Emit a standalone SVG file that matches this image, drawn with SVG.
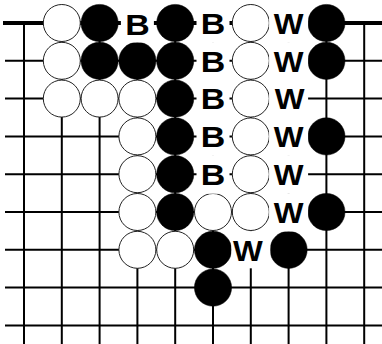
<svg xmlns="http://www.w3.org/2000/svg" width="382" height="344" viewBox="0 0 382 344">
<defs>
<style>
.g{stroke:#000;stroke-width:2;fill:none}
.edge{stroke:#000;stroke-width:4}
.w{fill:#fff;stroke:#222;stroke-width:1}
.b{fill:#000;stroke:#000;stroke-width:0.5}
.bg{fill:#fff}
.t{font-family:"Liberation Sans",Arial,sans-serif;font-weight:bold;font-size:30px;fill:#000;text-anchor:middle}
</style>
<circle id="ws" r="18.5" class="w"/>
<circle id="bs" r="18.6" class="b"/>
</defs>
<rect width="382" height="344" fill="#fff"/>
<g id="grid">
<line class="edge" x1="3" y1="23" x2="382" y2="23"/>
<path class="g" d="M5 60.8H382M5 98.6H382M5 136.4H382M5 174.2H382M5 212H382M5 249.8H382M5 287.6H382M5 325.4H382"/>
<path class="g" d="M24 23V344M61.8 23V344M99.6 23V344M137.4 23V344M175.2 23V344M213 23V344M250.8 23V344M288.6 23V344M326.4 23V344M364.2 23V344"/>
</g>
<g id="stones">
<g id="r0"><use href="#ws" x="61.8" y="23"/><use href="#bs" x="99.6" y="23"/><use href="#bs" x="175.2" y="23"/><use href="#ws" x="250.8" y="23"/><use href="#bs" x="326.4" y="23"/></g>
<g id="r1"><use href="#ws" x="61.8" y="60.8"/><use href="#bs" x="99.6" y="60.8"/><use href="#bs" x="137.4" y="60.8"/><use href="#bs" x="175.2" y="60.8"/><use href="#ws" x="250.8" y="60.8"/><use href="#bs" x="326.4" y="60.8"/></g>
<g id="r2"><use href="#ws" x="61.8" y="98.6"/><use href="#ws" x="99.6" y="98.6"/><use href="#ws" x="137.4" y="98.6"/><use href="#bs" x="175.2" y="98.6"/><use href="#ws" x="250.8" y="98.6"/></g>
<g id="r3"><use href="#ws" x="137.4" y="136.4"/><use href="#bs" x="175.2" y="136.4"/><use href="#ws" x="250.8" y="136.4"/><use href="#bs" x="326.4" y="136.4"/></g>
<g id="r4"><use href="#ws" x="137.4" y="174.2"/><use href="#bs" x="175.2" y="174.2"/><use href="#ws" x="250.8" y="174.2"/></g>
<g id="r5"><use href="#ws" x="137.4" y="212"/><use href="#bs" x="175.2" y="212"/><use href="#ws" x="213" y="212"/><use href="#ws" x="250.8" y="212"/><use href="#bs" x="326.4" y="212"/></g>
<g id="r6"><use href="#ws" x="137.4" y="249.8"/><use href="#ws" x="175.2" y="249.8"/><use href="#bs" x="213" y="249.8"/><use href="#bs" x="288.6" y="249.8"/></g>
<g id="r7"><use href="#bs" x="213" y="287.6"/></g>
</g>
<g id="labels">
<g id="lb0a"><rect class="bg" x="120.9" y="4.3" width="33" height="38.2"/><text class="t" x="137.4" y="35" textLength="24.5" lengthAdjust="spacingAndGlyphs">B</text></g>
<g id="lb0b"><rect class="bg" x="196.5" y="4.3" width="33" height="38.2"/><text class="t" x="213" y="33.7" textLength="24.5" lengthAdjust="spacingAndGlyphs">B</text></g>
<g id="lw0"><rect class="bg" x="269.1" y="4.3" width="39" height="38.2"/><text class="t" x="288.6" y="33.7" textLength="29.8" lengthAdjust="spacingAndGlyphs">W</text></g>
<g id="lb1"><rect class="bg" x="196.5" y="42.1" width="33" height="38.2"/><text class="t" x="213" y="71.5" textLength="24.5" lengthAdjust="spacingAndGlyphs">B</text></g>
<g id="lw1"><rect class="bg" x="269.1" y="42.1" width="39" height="38.2"/><text class="t" x="288.6" y="71.5" textLength="29.8" lengthAdjust="spacingAndGlyphs">W</text></g>
<g id="lb2"><rect class="bg" x="196.5" y="79.9" width="33" height="38.2"/><text class="t" x="213" y="109.3" textLength="24.5" lengthAdjust="spacingAndGlyphs">B</text></g>
<g id="lw2"><rect class="bg" x="269.1" y="79.9" width="39" height="38.2"/><text class="t" x="289.6" y="109.3" textLength="29.8" lengthAdjust="spacingAndGlyphs">W</text></g>
<g id="lb3"><rect class="bg" x="196.5" y="117.7" width="33" height="38.2"/><text class="t" x="213" y="147.1" textLength="24.5" lengthAdjust="spacingAndGlyphs">B</text></g>
<g id="lw3"><rect class="bg" x="269.1" y="117.7" width="39" height="38.2"/><text class="t" x="288.6" y="147.1" textLength="29.8" lengthAdjust="spacingAndGlyphs">W</text></g>
<g id="lb4"><rect class="bg" x="196.5" y="155.5" width="33" height="38.2"/><text class="t" x="213" y="184.9" textLength="24.5" lengthAdjust="spacingAndGlyphs">B</text></g>
<g id="lw4"><rect class="bg" x="269.1" y="155.5" width="39" height="38.2"/><text class="t" x="288.6" y="184.9" textLength="29.8" lengthAdjust="spacingAndGlyphs">W</text></g>
<g id="lw5"><rect class="bg" x="269.1" y="193.3" width="39" height="38.2"/><text class="t" x="288.6" y="222.7" textLength="29.8" lengthAdjust="spacingAndGlyphs">W</text></g>
<g id="lw6"><rect class="bg" x="231.3" y="231.1" width="39" height="37.2"/><text class="t" x="248" y="260.5" textLength="29.8" lengthAdjust="spacingAndGlyphs">W</text></g>
</g>
</svg>
